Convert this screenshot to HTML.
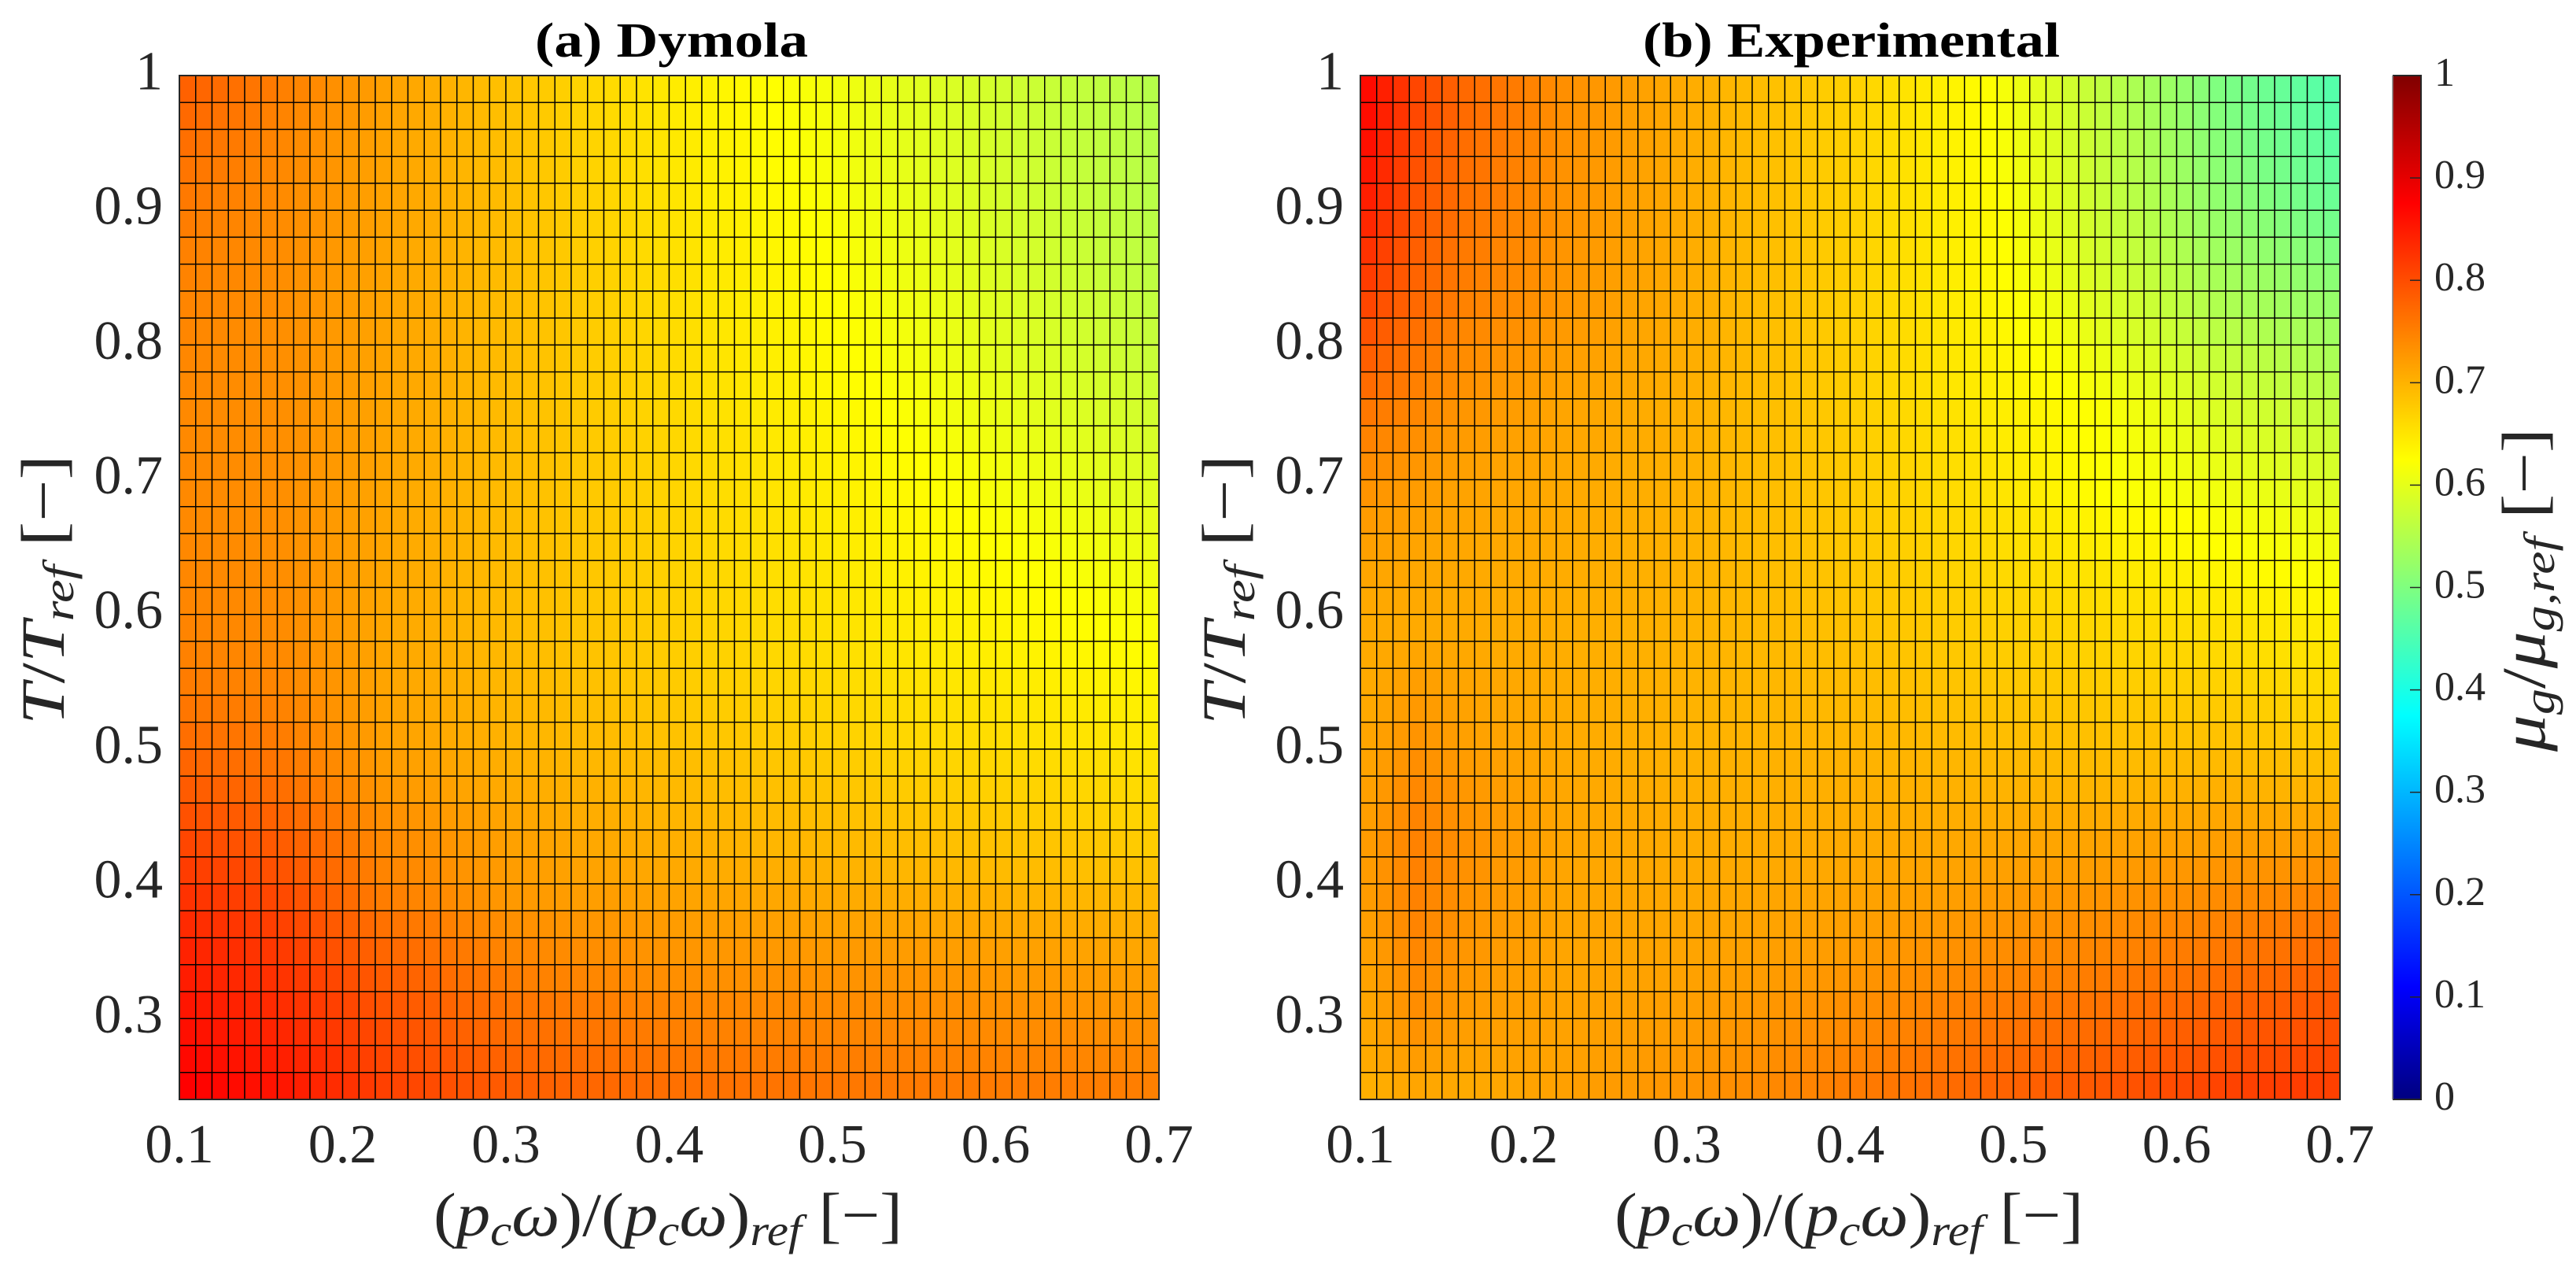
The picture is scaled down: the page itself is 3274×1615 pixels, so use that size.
<!DOCTYPE html>
<html lang="en">
<head>
<meta charset="utf-8">
<title>Dymola vs Experimental heatmaps</title>
<style>
html,body{margin:0;padding:0;background:#fff;}
body{width:3274px;height:1615px;overflow:hidden;}
svg{display:block;}
text{font-family:"Liberation Serif",serif;fill:#262626;}
.it{font-style:italic;}
</style>
</head>
<body>
<svg id="chart" xmlns="http://www.w3.org/2000/svg" width="3274" height="1615" viewBox="0 0 3274 1615">
<rect x="0" y="0" width="3274" height="1615" fill="#ffffff"/>
<defs>
<linearGradient id="jetGrad" x1="0" y1="1" x2="0" y2="0">
<stop offset="0" stop-color="#000080"/>
<stop offset="0.11" stop-color="#0000ff"/>
<stop offset="0.375" stop-color="#00ffff"/>
<stop offset="0.625" stop-color="#ffff00"/>
<stop offset="0.875" stop-color="#ff0000"/>
<stop offset="1" stop-color="#800000"/>
</linearGradient>
</defs>
<g id="panelA"></g>
<g id="panelB"></g>
<text x="853.5" y="72" text-anchor="middle" font-size="62" font-weight="bold" textLength="347" lengthAdjust="spacingAndGlyphs" style="fill:#000">(a) Dymola</text>
<text x="2353" y="72" text-anchor="middle" font-size="62" font-weight="bold" textLength="530" lengthAdjust="spacingAndGlyphs" style="fill:#000">(b) Experimental</text>
<text transform="translate(81,749.5) rotate(-90)" text-anchor="middle" font-size="78" textLength="343" lengthAdjust="spacingAndGlyphs"><tspan class="it">T</tspan>/<tspan class="it">T</tspan><tspan class="it" font-size="55" dy="12">ref</tspan><tspan dy="-12"> [−]</tspan></text>
<text transform="translate(1582,749.5) rotate(-90)" text-anchor="middle" font-size="78" textLength="343" lengthAdjust="spacingAndGlyphs"><tspan class="it">T</tspan>/<tspan class="it">T</tspan><tspan class="it" font-size="55" dy="12">ref</tspan><tspan dy="-12"> [−]</tspan></text>
<text x="849" y="1570" text-anchor="middle" font-size="78" textLength="596" lengthAdjust="spacingAndGlyphs">(<tspan class="it">p</tspan><tspan class="it" font-size="55" dy="12">c</tspan><tspan class="it" dy="-12">ω</tspan>)/(<tspan class="it">p</tspan><tspan class="it" font-size="55" dy="12">c</tspan><tspan class="it" dy="-12">ω</tspan>)<tspan class="it" font-size="55" dy="12">ref</tspan><tspan dy="-12"> [−]</tspan></text>
<text x="2350" y="1570" text-anchor="middle" font-size="78" textLength="596" lengthAdjust="spacingAndGlyphs">(<tspan class="it">p</tspan><tspan class="it" font-size="55" dy="12">c</tspan><tspan class="it" dy="-12">ω</tspan>)/(<tspan class="it">p</tspan><tspan class="it" font-size="55" dy="12">c</tspan><tspan class="it" dy="-12">ω</tspan>)<tspan class="it" font-size="55" dy="12">ref</tspan><tspan dy="-12"> [−]</tspan></text>
<g id="colorbar">
<rect x="3041" y="96" width="36" height="1301" fill="url(#jetGrad)"/>
<path d="M3041 96H3077V1397H3041" fill="none" stroke="#262626" stroke-width="2"/>
<path d="M3041 96V1397" fill="none" stroke="#808080" stroke-width="1.5"/>
</g>
<text transform="translate(3234,749.5) rotate(-90)" text-anchor="middle" font-size="78" textLength="411" lengthAdjust="spacingAndGlyphs"><tspan class="it">μ</tspan><tspan class="it" font-size="55" dy="12">g</tspan><tspan dy="-12">/</tspan><tspan class="it">μ</tspan><tspan class="it" font-size="55" dy="12">g,ref</tspan><tspan dy="-12"> [−]</tspan></text>
</svg>
<script>
const xEdges=[0.10,0.11,0.12,0.13,0.14,0.15,0.16,0.17,0.18,0.19,0.20,0.21,0.22,0.23,0.24,0.25,0.26,0.27,0.28,0.29,0.30,0.31,0.32,0.33,0.34,0.35,0.36,0.37,0.38,0.39,0.40,0.41,0.42,0.43,0.44,0.45,0.46,0.47,0.48,0.49,0.50,0.51,0.52,0.53,0.54,0.55,0.56,0.57,0.58,0.59,0.60,0.61,0.62,0.63,0.64,0.65,0.66,0.67,0.68,0.69,0.70];
const yEdges=[1.00,0.98,0.96,0.94,0.92,0.90,0.88,0.86,0.84,0.82,0.80,0.78,0.76,0.74,0.72,0.70,0.68,0.66,0.64,0.62,0.60,0.58,0.56,0.54,0.52,0.50,0.48,0.46,0.44,0.42,0.40,0.38,0.36,0.34,0.32,0.30,0.28,0.26,0.24];
const xTickValues=[0.1,0.2,0.3,0.4,0.5,0.6,0.7];
const xTickLabels=["0.1","0.2","0.3","0.4","0.5","0.6","0.7"];
const yTickValues=[1,0.9,0.8,0.7,0.6,0.5,0.4,0.3];
const yTickLabels=["1","0.9","0.8","0.7","0.6","0.5","0.4","0.3"];
const colorbarTickValues=[0,0.1,0.2,0.3,0.4,0.5,0.6,0.7,0.8,0.9,1];
const colorbarTickLabels=["0","0.1","0.2","0.3","0.4","0.5","0.6","0.7","0.8","0.9","1"];
/* values x1000, rows top (T=1) to bottom, columns left to right */
const dymolaValues=[
[780,775,770,765,760,755,750,745,740,734,729,724,718,714,710,705,701,697,692,688,684,680,676,672,668,664,660,656,652,648,644,641,638,634,631,628,625,621,618,615,612,608,605,602,598,595,592,589,586,583,580,577,574,571,568,565,562,559,556,553],
[772,768,763,759,755,750,746,741,736,732,727,722,717,713,709,705,701,697,693,689,685,681,677,673,669,665,661,657,653,649,645,642,638,635,632,629,625,622,619,616,612,609,606,602,599,596,593,590,587,584,581,578,575,571,568,565,562,559,556,553],
[766,762,758,755,751,747,743,738,734,729,725,720,716,712,708,705,701,697,693,690,686,682,678,674,670,667,663,659,655,651,647,644,640,637,634,630,627,624,620,617,614,610,607,604,600,597,594,591,588,585,582,579,575,572,569,566,563,560,557,554],
[760,757,754,751,747,744,741,737,733,729,724,720,716,712,709,705,701,698,694,691,687,683,679,675,671,668,664,660,656,652,648,645,641,638,635,631,628,625,621,618,615,611,608,605,601,598,595,592,589,586,583,580,577,573,570,567,564,561,558,555],
[756,753,750,748,745,742,739,735,731,728,724,720,716,713,709,706,702,699,695,692,688,684,680,676,673,669,665,661,657,654,650,647,643,640,637,633,630,627,623,620,617,613,610,607,603,600,597,594,591,587,584,581,578,575,572,569,565,562,559,556],
[752,750,747,745,743,740,738,734,731,727,723,720,716,713,709,706,702,699,695,692,688,684,681,677,673,670,666,663,659,655,652,649,645,642,639,635,632,629,625,622,619,615,612,609,605,602,599,596,593,589,586,583,580,577,574,571,567,564,561,558],
[749,747,745,743,741,739,737,733,730,726,722,719,715,712,708,705,702,699,695,692,689,685,682,678,675,671,668,664,661,657,654,651,647,644,641,637,634,631,627,624,621,617,614,611,607,604,601,598,595,591,588,585,582,579,576,573,569,566,563,560],
[747,745,743,742,740,738,736,732,729,725,722,718,715,712,708,705,702,699,695,692,689,686,682,679,676,672,669,666,662,659,656,653,649,646,643,639,636,633,629,626,623,619,616,613,609,606,603,600,597,593,590,587,584,581,578,575,571,568,565,562],
[745,744,742,741,739,738,736,732,729,725,722,718,715,712,709,706,702,699,696,693,690,687,683,680,677,674,670,667,664,660,657,654,650,647,644,641,637,634,631,627,624,621,618,614,611,608,605,602,599,596,593,590,587,584,581,578,575,571,568,565],
[744,742,741,739,738,736,735,732,728,725,722,718,715,712,709,706,703,699,696,693,690,687,684,681,678,675,671,668,665,662,659,656,652,649,646,642,639,636,633,629,626,623,620,616,613,610,607,604,601,598,595,592,589,586,583,580,577,574,571,568],
[743,742,740,739,738,736,735,732,728,725,722,718,715,712,709,706,703,699,696,693,690,687,684,681,678,675,672,669,666,663,660,657,654,650,647,644,641,638,634,631,628,625,622,618,615,612,609,606,603,600,597,594,591,589,586,583,580,577,574,571],
[742,741,740,738,737,736,735,732,728,725,722,718,715,712,709,706,703,699,696,693,690,687,684,681,678,676,673,670,667,664,661,658,655,652,649,646,643,640,636,633,630,627,624,621,618,615,612,609,607,604,601,598,595,593,590,587,584,582,579,576],
[741,740,739,738,737,736,735,732,728,725,721,718,714,711,708,705,702,699,696,693,690,687,684,682,679,676,673,670,668,665,662,659,656,653,650,647,645,642,639,636,633,630,627,624,621,618,615,612,610,607,604,602,599,596,594,591,588,586,583,581],
[741,740,739,738,737,736,735,732,728,725,721,718,714,711,708,705,702,699,696,693,690,687,685,682,680,677,674,672,669,667,664,661,658,655,653,650,647,644,641,638,635,632,630,627,624,621,618,616,613,611,608,606,603,601,598,596,593,591,588,586],
[741,740,739,738,737,736,735,732,728,725,721,718,714,711,708,705,702,699,696,693,690,688,685,683,680,678,675,673,670,668,665,662,660,657,654,652,649,646,644,641,638,636,633,630,628,625,623,620,618,615,613,610,608,606,603,601,598,596,593,591],
[741,740,739,738,737,736,735,731,728,724,720,717,713,710,707,704,702,699,696,693,690,688,685,683,680,678,676,673,671,668,666,663,661,658,656,653,651,648,646,643,641,638,636,633,631,628,626,623,621,618,616,614,611,609,606,604,601,599,598,596],
[741,740,739,738,737,736,735,731,728,724,720,717,713,710,707,704,702,699,696,693,690,688,685,683,681,679,676,674,672,669,667,665,662,660,657,655,653,650,648,645,643,641,638,636,633,631,629,627,625,622,620,618,616,614,612,609,607,605,603,601],
[742,741,740,739,737,736,735,731,728,724,720,717,713,710,707,704,702,699,696,693,690,688,686,684,681,679,677,675,673,670,668,666,664,661,659,657,655,652,650,648,645,643,641,639,636,634,632,630,628,626,624,622,620,618,616,614,612,610,608,606],
[743,742,741,740,738,737,736,732,728,724,720,716,712,709,707,704,701,698,696,693,690,688,686,684,682,680,677,675,673,671,669,667,665,663,660,658,656,654,652,650,648,645,643,641,639,637,635,633,631,629,627,625,624,622,620,618,617,615,613,611],
[744,743,742,741,739,738,737,733,729,725,720,716,712,709,707,704,701,698,696,693,690,688,686,684,682,680,678,676,674,672,670,668,666,664,662,660,658,656,654,652,650,648,646,644,642,640,638,636,635,633,631,630,628,626,624,623,621,619,618,616],
[746,745,743,742,741,739,738,734,729,725,721,716,712,709,707,704,701,699,696,694,691,689,687,685,683,682,680,678,676,674,672,670,668,666,664,662,660,659,657,655,653,651,649,648,646,644,642,640,639,637,635,633,632,630,628,627,625,623,622,621],
[749,747,746,744,743,741,740,736,731,727,722,718,713,711,708,706,703,701,698,696,693,691,689,687,685,684,682,680,678,676,674,672,670,669,667,665,663,662,660,658,657,655,653,651,650,648,646,645,643,642,640,639,637,636,634,633,631,630,628,627],
[753,751,750,748,746,745,743,738,733,729,724,719,714,712,709,707,704,702,700,697,695,693,691,689,687,686,684,682,680,678,676,674,673,671,670,668,666,665,663,662,660,658,657,655,654,652,651,649,648,647,645,644,643,641,640,639,637,636,634,633],
[759,757,755,753,751,749,747,742,737,731,726,721,716,714,711,709,707,704,702,699,697,695,694,692,690,689,687,685,683,682,680,678,677,675,674,672,671,669,668,666,665,663,662,660,659,657,656,655,654,652,651,650,649,648,647,646,644,643,641,640],
[767,765,762,760,757,755,752,746,741,735,729,724,718,716,713,711,708,706,704,701,699,698,696,695,694,692,691,689,688,686,685,683,682,680,679,677,676,674,673,671,670,668,667,665,664,662,661,660,659,658,657,656,654,653,652,651,650,649,647,646],
[776,773,770,767,764,761,758,752,746,740,734,728,722,720,717,715,712,710,707,705,702,701,700,699,697,696,695,694,693,691,690,689,687,686,684,683,681,680,678,677,675,674,672,671,669,668,667,666,665,664,662,661,660,659,658,657,656,655,653,652],
[786,783,779,776,773,769,766,759,753,746,740,734,728,725,722,720,717,714,712,709,707,706,704,703,702,701,699,698,697,695,694,693,692,690,689,688,687,685,684,683,682,680,679,678,676,675,674,673,672,671,670,669,668,667,666,665,664,663,661,660],
[796,793,789,786,782,779,775,768,762,755,748,742,735,732,729,726,723,721,718,715,712,711,709,708,706,705,704,702,701,699,698,697,696,695,694,693,692,691,690,689,688,686,685,684,683,682,681,680,679,678,677,675,674,673,672,671,670,669,668,667],
[806,802,799,795,791,788,784,777,770,763,755,748,741,738,735,732,729,726,723,720,717,716,714,713,711,710,709,707,706,704,703,702,701,700,699,698,697,696,696,695,694,693,692,691,690,689,688,687,686,685,684,683,682,682,681,680,679,678,676,675],
[816,812,808,805,801,797,793,785,777,770,762,754,746,743,740,737,733,730,727,724,721,720,719,717,716,715,714,713,711,710,709,708,707,706,705,705,704,703,702,701,700,700,699,698,697,697,696,695,694,693,692,691,691,690,689,688,687,687,686,685],
[826,822,818,814,810,806,802,794,786,777,769,760,752,749,745,742,739,735,732,728,725,724,723,722,721,720,720,719,718,716,715,714,714,713,712,711,711,710,709,709,708,707,707,706,705,705,704,703,702,702,701,700,699,699,698,697,697,696,696,695],
[834,830,826,822,818,814,810,802,795,787,779,772,764,760,756,753,749,745,741,738,734,733,732,730,729,728,727,726,725,723,722,721,721,720,719,719,718,717,717,716,715,715,715,714,714,713,712,711,711,710,709,709,708,707,706,706,705,704,704,703],
[842,838,834,830,825,821,817,810,803,796,789,782,775,771,767,763,759,755,751,747,743,742,740,739,737,736,734,733,731,730,728,728,727,727,726,726,725,725,725,724,724,724,723,723,722,722,721,720,720,719,718,717,717,716,715,715,714,713,712,712],
[848,844,840,836,832,828,824,818,811,805,798,792,785,781,777,773,768,764,760,756,752,750,748,747,745,743,742,740,738,737,735,735,734,734,733,733,733,733,732,732,732,731,731,731,730,730,729,728,728,727,726,725,725,724,723,723,722,721,721,720],
[854,850,846,842,838,834,830,824,818,812,805,799,793,789,785,781,776,772,768,764,760,758,757,755,753,752,750,748,747,745,743,743,742,742,741,741,740,740,739,739,738,738,737,737,736,736,735,735,734,733,733,732,731,731,730,729,729,728,728,727],
[860,856,852,849,845,841,837,831,825,819,812,806,800,796,792,788,783,779,775,771,767,765,764,762,760,759,757,755,754,752,750,749,749,748,748,747,747,746,746,745,745,744,744,743,743,742,741,741,740,740,739,739,738,738,738,737,737,736,736,735],
[867,863,860,856,852,849,845,839,833,827,818,812,806,802,798,794,791,787,783,779,775,773,771,769,768,766,764,762,761,759,757,756,756,755,755,754,753,753,752,752,751,751,750,749,749,748,748,747,747,747,746,746,745,745,745,744,744,744,743,743],
[875,871,868,864,860,857,853,846,839,832,826,819,812,808,805,801,797,794,790,787,783,781,779,777,776,774,772,770,769,767,765,764,764,763,762,761,761,760,759,759,758,757,757,756,755,755,755,754,754,754,753,753,753,752,752,752,751,751,751,750]
];
const experimentalValues=[
[865,845,826,806,795,783,772,766,760,754,747,741,735,731,727,724,720,716,712,709,705,701,697,694,690,686,683,679,675,672,668,663,657,652,647,641,636,630,625,616,607,598,589,580,571,562,553,544,535,527,518,509,500,494,488,482,476,470,464,458],
[863,843,824,804,793,781,770,764,758,752,746,740,734,730,727,723,719,716,712,709,705,701,697,694,690,686,683,679,675,672,668,663,658,652,647,642,637,631,626,617,608,599,591,582,573,564,555,547,538,529,521,512,504,498,492,486,480,474,468,462],
[860,840,820,800,789,778,767,761,756,750,744,739,733,730,726,723,719,716,712,709,705,701,697,694,690,686,683,679,675,672,668,663,658,653,648,642,637,632,627,618,609,601,592,583,575,566,558,550,541,533,525,516,508,502,496,490,485,479,473,467],
[853,834,815,796,786,775,765,760,754,749,743,738,732,729,725,722,719,715,712,708,705,701,698,694,691,687,683,680,676,673,669,664,659,654,649,643,638,633,628,619,611,602,594,585,577,568,560,552,544,536,528,520,512,506,501,495,490,484,479,473],
[846,828,810,792,782,772,762,757,752,746,741,736,731,728,725,721,718,715,712,708,705,701,698,694,691,687,684,680,676,673,669,664,659,654,650,645,640,635,630,622,613,605,596,588,579,571,563,555,548,540,532,525,517,512,507,501,496,491,485,480],
[837,820,804,787,777,768,758,753,749,744,739,735,730,727,724,721,718,714,711,708,705,701,698,694,691,687,683,680,676,673,669,664,659,655,650,645,640,636,631,623,615,607,599,591,583,575,568,561,553,546,539,531,524,519,514,509,504,499,494,489],
[826,811,797,782,773,764,755,751,746,742,738,733,729,726,723,720,717,714,711,708,705,701,698,695,691,688,684,681,677,674,670,665,660,656,651,646,641,637,632,625,617,610,602,595,587,580,573,566,559,553,546,539,532,527,523,518,514,509,505,500],
[816,803,790,777,769,760,752,748,744,740,736,732,728,725,722,719,717,714,711,708,705,701,698,695,691,688,684,681,677,674,670,665,661,656,652,647,642,638,633,626,619,613,606,599,592,585,579,572,566,559,553,546,540,536,532,528,524,519,515,511],
[806,795,783,772,764,756,748,745,741,738,734,731,727,724,722,719,716,713,711,708,705,702,698,695,691,688,685,681,678,674,671,667,662,658,653,649,644,640,635,629,623,616,610,604,597,591,585,579,573,566,560,554,548,544,540,537,533,529,526,522],
[794,784,775,765,758,750,743,740,737,734,730,727,724,722,719,717,714,712,710,707,705,702,698,695,691,688,685,681,678,674,671,667,663,659,655,650,646,642,638,632,626,621,615,609,604,598,592,586,581,575,569,564,558,554,551,547,543,540,536,532],
[782,774,765,757,751,744,738,735,732,729,726,723,720,718,716,714,712,710,708,706,704,701,698,695,691,688,685,682,679,675,672,668,664,660,656,652,648,644,640,635,630,625,621,616,611,606,601,596,591,585,580,575,570,566,562,558,554,550,546,542],
[770,763,757,750,744,739,733,730,727,725,722,719,716,714,713,711,710,708,706,705,703,700,697,694,691,688,684,681,678,675,672,668,664,661,657,653,649,646,642,638,634,630,626,621,617,613,608,603,599,594,589,585,580,576,572,568,564,561,557,553],
[757,752,748,743,738,733,728,726,723,721,718,716,713,712,710,709,708,706,705,703,702,699,696,693,690,688,685,682,679,676,673,669,666,662,659,655,652,648,645,642,638,635,631,628,624,621,617,612,608,603,599,594,590,586,583,579,576,572,569,565],
[747,743,739,735,731,727,723,721,719,717,716,714,712,711,710,708,707,706,705,703,702,699,696,694,691,688,685,682,680,677,674,671,668,664,661,658,655,651,648,644,640,637,633,629,626,622,618,615,611,608,604,601,597,594,591,588,585,581,578,575],
[738,735,731,728,725,721,718,717,715,714,713,711,710,709,708,706,705,704,703,702,701,698,696,693,690,688,685,683,680,678,675,672,669,666,663,660,657,654,651,647,643,639,635,631,627,623,620,618,615,612,610,607,604,601,599,596,593,590,588,585],
[730,727,725,722,720,717,715,714,713,712,711,710,709,708,707,706,705,704,703,702,701,699,696,694,691,689,686,684,681,679,676,673,670,668,665,662,660,657,654,650,646,642,637,633,629,625,623,621,619,618,616,614,612,610,607,605,602,600,597,595],
[723,721,720,718,716,715,713,712,711,711,710,709,708,707,706,705,704,703,702,701,700,698,695,693,691,689,686,684,682,679,677,675,672,670,667,665,663,660,658,655,651,648,644,641,637,634,632,630,628,627,625,623,619,617,615,613,611,609,607,605],
[718,717,715,714,713,712,711,710,710,709,709,708,707,706,705,704,703,703,702,701,700,698,696,693,691,689,687,685,682,680,678,676,674,672,670,668,665,663,661,658,655,653,650,647,645,642,640,637,635,632,630,627,625,623,621,619,618,616,614,612],
[713,712,712,711,710,710,709,708,708,708,707,707,706,705,704,704,703,702,702,701,700,698,696,694,692,690,688,686,684,682,680,678,676,674,672,670,668,666,664,662,660,658,656,654,652,650,648,646,644,642,640,637,635,633,631,629,627,625,622,620],
[710,710,709,709,709,708,708,708,707,707,706,706,705,704,704,703,703,702,701,701,700,698,696,695,693,691,689,687,686,684,682,680,679,677,675,673,672,670,668,666,665,663,662,660,659,657,655,654,652,650,649,647,645,643,641,639,637,635,632,630],
[708,708,708,708,708,708,708,707,707,706,706,705,704,704,703,703,702,702,701,701,700,699,697,696,694,693,691,690,688,687,685,683,682,680,679,677,675,674,672,671,670,669,668,666,665,664,663,661,660,659,658,656,655,653,651,649,648,646,644,642],
[708,710,711,713,712,711,710,709,708,708,707,706,705,704,704,703,703,702,701,701,700,699,698,696,695,694,693,692,690,689,688,686,685,683,682,680,679,677,676,675,674,673,673,672,670,669,668,667,666,666,665,663,662,660,659,657,655,653,652,650],
[708,712,716,720,718,715,713,712,711,710,708,707,706,705,704,704,703,702,702,701,700,699,698,697,696,696,695,694,693,692,691,690,688,687,685,684,683,681,680,679,678,677,677,676,675,674,673,673,672,671,671,670,669,667,666,664,663,661,660,658],
[710,715,720,725,722,719,716,714,713,711,710,708,707,706,705,705,704,703,702,701,700,699,699,698,698,697,697,696,695,695,694,693,692,690,689,688,687,686,685,684,684,683,682,682,681,680,680,679,679,678,678,677,677,676,674,673,671,670,668,667],
[713,719,724,730,726,722,718,716,715,713,711,710,708,707,706,705,704,703,702,701,700,700,700,700,699,699,699,699,698,698,698,697,696,695,694,693,692,691,690,689,689,688,688,687,687,686,686,686,686,686,685,685,685,684,683,681,680,679,677,676],
[715,722,729,736,731,727,722,720,718,716,713,711,709,708,707,706,705,704,703,702,701,701,701,701,701,701,701,701,701,701,701,700,699,699,698,697,697,696,695,695,694,694,693,693,692,692,692,692,692,693,693,693,693,692,691,690,690,689,688,687],
[718,726,734,742,737,732,727,724,722,719,716,714,711,710,709,708,707,706,705,704,703,703,703,703,703,703,703,703,703,703,703,703,702,702,702,701,701,700,700,700,700,700,699,699,699,699,699,700,700,700,701,701,702,701,701,700,700,699,699,698],
[720,729,737,746,741,735,730,727,724,721,718,715,712,711,710,709,709,708,707,706,705,705,705,705,705,705,705,705,705,705,705,705,705,705,705,705,705,705,705,705,706,706,706,706,707,707,708,708,709,709,710,710,711,711,710,710,710,710,709,709],
[723,731,740,748,743,738,733,730,726,723,720,716,713,712,711,710,710,709,708,707,706,706,706,706,707,707,707,707,708,708,708,708,709,709,710,710,710,711,711,712,712,713,713,714,714,715,716,716,717,718,718,719,720,720,720,720,720,720,720,720],
[723,732,740,749,744,738,733,730,726,723,720,716,713,712,711,711,710,710,709,709,708,708,709,709,709,709,710,710,710,711,711,712,713,713,714,715,715,716,717,718,718,719,720,720,721,722,723,724,725,726,727,728,729,730,730,731,731,732,732,733],
[723,731,740,748,742,737,731,728,725,722,719,716,713,713,712,712,712,711,711,710,710,711,711,712,712,713,713,714,714,715,715,716,717,718,719,719,720,721,723,724,725,726,727,728,729,730,731,732,733,734,735,737,738,739,740,741,742,743,745,746],
[720,729,737,746,740,735,729,726,724,721,718,716,713,713,713,713,713,712,712,712,712,713,713,714,715,715,716,717,717,718,719,720,721,723,724,725,726,727,729,730,731,732,733,735,736,737,738,740,741,743,744,746,747,749,750,752,753,755,756,758],
[718,726,735,743,738,733,728,726,723,721,718,716,713,713,713,713,713,714,714,714,714,715,716,717,718,719,719,720,721,722,723,725,726,728,730,731,733,734,736,737,739,740,741,742,744,745,747,748,750,751,753,754,756,758,760,762,763,765,767,770],
[716,724,732,740,735,731,726,724,722,720,718,716,714,714,715,715,715,716,716,716,717,718,719,721,722,723,724,725,727,728,729,731,733,735,737,738,740,742,744,745,746,748,749,750,752,753,755,757,759,760,762,764,766,768,770,772,774,776,778,780],
[713,721,729,737,733,728,724,722,721,720,718,717,715,716,716,717,718,718,719,719,720,722,723,725,726,728,729,731,732,734,735,737,739,741,744,746,748,750,752,753,755,756,758,759,761,762,764,766,768,770,772,774,776,778,780,782,784,786,788,790],
[711,718,724,731,727,724,720,719,719,718,718,717,716,717,718,719,720,720,721,722,723,725,727,729,730,732,734,736,737,739,741,743,746,748,751,753,755,758,760,762,763,765,766,768,769,771,773,775,777,780,782,784,786,788,790,792,793,795,796,798],
[708,713,717,722,719,717,714,715,715,716,716,716,717,718,719,720,721,723,724,725,726,728,730,732,734,737,739,741,743,745,747,750,752,755,758,760,763,765,768,770,771,773,775,777,778,780,782,784,787,789,791,794,796,797,799,800,801,802,804,805],
[703,706,710,713,711,710,708,710,711,713,715,716,718,720,721,723,724,726,727,729,730,732,735,737,739,742,744,746,749,751,753,756,759,762,765,767,770,773,776,778,780,782,784,786,788,790,793,795,798,800,803,805,808,810,812,814,815,815,813,812]
];

const SVG_NS="http://www.w3.org/2000/svg";
const plotTop=96, plotH=1301, plotW=1245;
const gridW=1.4;
const xMin=xEdges[0], xMax=xEdges[xEdges.length-1];
const yMax=yEdges[0], yMin=yEdges[yEdges.length-1];
const cLimMin=0, cLimMax=1;
function xScale(v,left){return left+(v-xMin)/(xMax-xMin)*plotW;}
function yScale(v){return plotTop+(yMax-v)/(yMax-yMin)*plotH;}
function cScale(v){return plotTop+plotH-(v-cLimMin)/(cLimMax-cLimMin)*plotH;}
function jet(v){
  const clip=function(a){return Math.max(0,Math.min(1,a));};
  const r=clip(Math.min(4*v-1.5,-4*v+4.5));
  const g=clip(Math.min(4*v-0.5,-4*v+3.5));
  const b=clip(Math.min(4*v+0.5,-4*v+2.5));
  return "rgb("+Math.round(r*255)+","+Math.round(g*255)+","+Math.round(b*255)+")";
}
function drawPanel(groupId,values,left,prefix){
  const g=document.getElementById(groupId);
  values.forEach(function(row,ri){
    row.forEach(function(val,ci){
      const x0=xScale(xEdges[ci],left), x1=xScale(xEdges[ci+1],left);
      const y0=yScale(yEdges[ri]), y1=yScale(yEdges[ri+1]);
      const cell=document.createElementNS(SVG_NS,"rect");
      cell.setAttribute("x",x0);
      cell.setAttribute("y",y0);
      cell.setAttribute("width",x1-x0);
      cell.setAttribute("height",y1-y0);
      cell.setAttribute("fill",jet(val/1000));
      cell.setAttribute("stroke","#000");
      cell.setAttribute("stroke-width",gridW);
      
      
      g.appendChild(cell);
    });
  });
  const frame=document.createElementNS(SVG_NS,"rect");
  frame.setAttribute("x",left);
  frame.setAttribute("y",plotTop);
  frame.setAttribute("width",plotW);
  frame.setAttribute("height",plotH);
  frame.setAttribute("fill","none");
  frame.setAttribute("stroke","#262626");
  frame.setAttribute("stroke-width",2);
  
  
  g.appendChild(frame);
  xTickValues.forEach(function(v,i){
    const t=document.createElementNS(SVG_NS,"text");
    t.setAttribute("x",xScale(v,left));
    t.setAttribute("y",1477);
    t.setAttribute("text-anchor","middle");
    t.setAttribute("font-size",70);
    
    
    t.textContent=xTickLabels[i];
    g.appendChild(t);
  });
  yTickValues.forEach(function(v,i){
    const t=document.createElementNS(SVG_NS,"text");
    t.setAttribute("x",left-21);
    t.setAttribute("y",yScale(v)+17.5);
    t.setAttribute("text-anchor","end");
    t.setAttribute("font-size",70);
    
    
    t.textContent=yTickLabels[i];
    g.appendChild(t);
  });
}
drawPanel("panelA",dymolaValues,228,"a");
drawPanel("panelB",experimentalValues,1729,"b");
(function(){
  const g=document.getElementById("colorbar");
  colorbarTickValues.forEach(function(v,i){
    const y=cScale(v);
    if(v>cLimMin&&v<cLimMax){
      const tick=document.createElementNS(SVG_NS,"line");
      tick.setAttribute("x1",3063);
      tick.setAttribute("x2",3076);
      tick.setAttribute("y1",y);
      tick.setAttribute("y2",y);
      tick.setAttribute("stroke","#262626");
      tick.setAttribute("stroke-width",1.5);
      
      
      g.appendChild(tick);
    }
    const t=document.createElementNS(SVG_NS,"text");
    t.setAttribute("x",3094);
    t.setAttribute("y",y+13);
    t.setAttribute("font-size",52);
    
    
    t.textContent=colorbarTickLabels[i];
    g.appendChild(t);
  });
})();
</script>
</body>
</html>
